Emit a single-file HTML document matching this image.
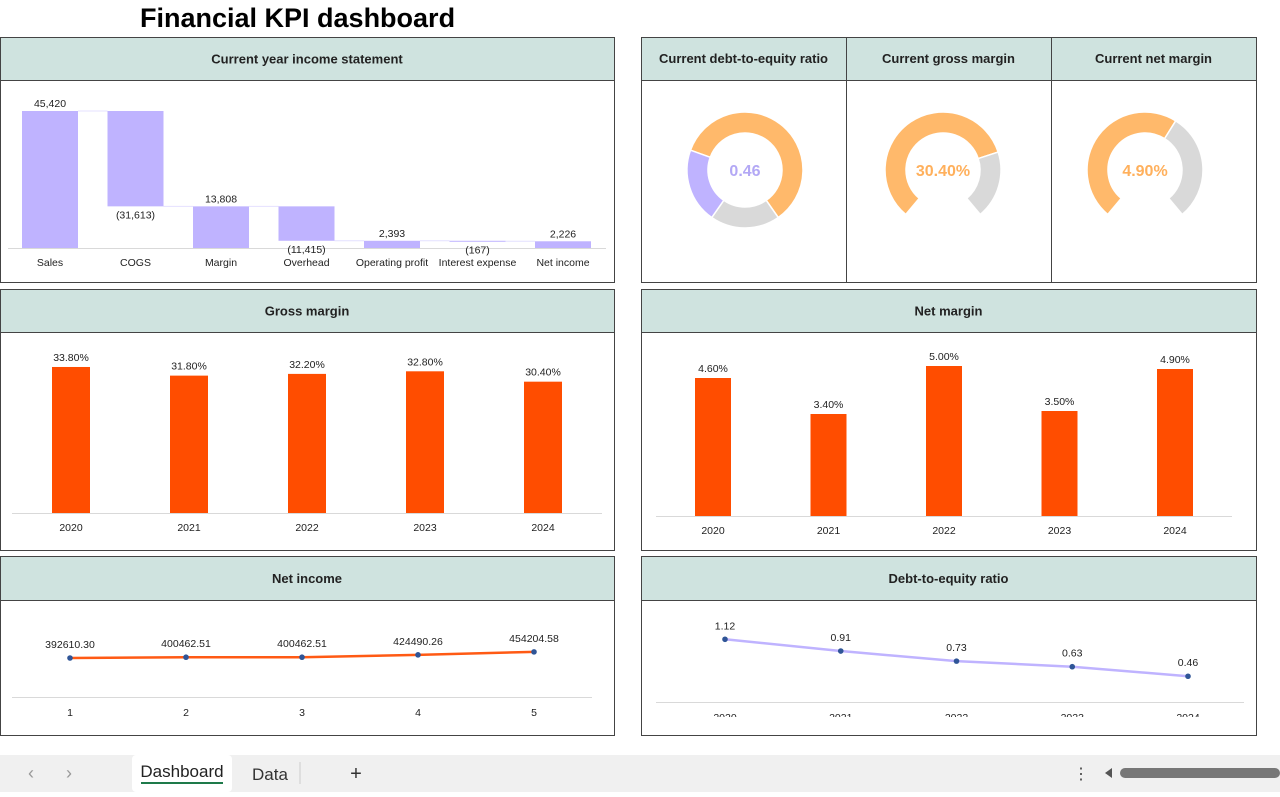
<!DOCTYPE html>
<html><head><meta charset="utf-8">
<style>
body{margin:0;width:1280px;height:792px;overflow:hidden;background:#fff;font-family:"Liberation Sans",sans-serif;}
svg text{font-family:"Liberation Sans",sans-serif;}
</style></head>
<body>
<svg id="s" width="1280" height="792" xmlns="http://www.w3.org/2000/svg">
<text x="140" y="27" font-size="27" font-weight="bold" fill="#000">Financial KPI dashboard</text>
<g id="panels"></g>
<g id="charts"></g>
<g>
<rect x="0" y="755" width="1280" height="37" fill="#f0f0f0"/>
<text x="28" y="779" font-size="18" fill="#999">‹</text>
<text x="66" y="779" font-size="18" fill="#999">›</text>
<rect x="132" y="755" width="100" height="37" rx="4" fill="#fff"/>
<text x="182" y="777" font-size="17" text-anchor="middle" fill="#222">Dashboard</text>
<rect x="141" y="782" width="82" height="2" fill="#1e7a4a"/>
<text x="252" y="780" font-size="17" fill="#333">Data</text>
<line x1="300" y1="762" x2="300" y2="784" stroke="#ccc"/>
<text x="356" y="780" font-size="20" text-anchor="middle" fill="#333">+</text>
<text x="1081" y="779" font-size="16" text-anchor="middle" fill="#444">⋮</text>
<path d="M1105 773 L1112 768 L1112 778 Z" fill="#555"/>
<rect x="1120" y="768" width="160" height="10" rx="5" fill="#777"/>
</g>
</svg>
<script>
const NS='http://www.w3.org/2000/svg';
function mk(tag,attrs,parent,txt){const e=document.createElementNS(NS,tag);for(const k in attrs)e.setAttribute(k,attrs[k]);if(txt!==undefined)e.textContent=txt;(parent||document.getElementById('charts')).appendChild(e);return e;}

const P=document.getElementById('panels');
function panel(x,y,w,h,hh,title,name){
  const g=mk('g',{},P);
  
  
  mk('rect',{x:x+0.5,y:y+0.5,width:w,height:h,fill:'#fff',stroke:'#444','stroke-width':1},g);
  mk('rect',{x:x+1,y:y+1,width:w-1,height:hh,fill:'#cfe3df'},g);
  mk('line',{x1:x,y1:y+hh+0.5,x2:x+w,y2:y+hh+0.5,stroke:'#444'},g);
  if(title){const t=mk('text',{x:x+w/2,y:y+hh/2+5,'font-size':13,'font-weight':'bold','text-anchor':'middle',fill:'#222'},g,title);
  
  }
}
panel(0,37,614,245,43,'Current year income statement','income-statement-panel');
panel(641,37,615,245,43,'','kpi-panel');
[['Current debt-to-equity ratio',641,205],['Current gross margin',846,205],['Current net margin',1051,205]].forEach(function(c){
  const t=mk('text',{x:c[1]+c[2]/2,y:63,'font-size':13,'font-weight':'bold','text-anchor':'middle',fill:'#222'},P,c[0]);
  
  
});
mk('line',{x1:846.5,y1:37,x2:846.5,y2:282,stroke:'#444'},P);
mk('line',{x1:1051.5,y1:37,x2:1051.5,y2:282,stroke:'#444'},P);
panel(0,289,614,261,43,'Gross margin','gross-margin-panel');
panel(641,289,615,261,43,'Net margin','net-margin-panel');
panel(0,556,614,179,44,'Net income','net-income-panel');
panel(641,556,615,179,44,'Debt-to-equity ratio','debt-to-equity-panel');

const wfCategories=['Sales','COGS','Margin','Overhead','Operating profit','Interest expense','Net income'];
const wfValues=[45420,-31613,13808,-11415,2393,-167,2226];
const wfIsTotal=[true,false,true,false,true,false,true];
const wfLabels=['45,420','(31,613)','13,808','(11,415)','2,393','(167)','2,226'];

const gmYears=['2020','2021','2022','2023','2024'];
const gmValues=[33.8,31.8,32.2,32.8,30.4];
const gmLabels=['33.80%','31.80%','32.20%','32.80%','30.40%'];

const nmYears=['2020','2021','2022','2023','2024'];
const nmValues=[4.6,3.4,5.0,3.5,4.9];
const nmLabels=['4.60%','3.40%','5.00%','3.50%','4.90%'];

const niCategories=['1','2','3','4','5'];
const niValues=[392610.30,400462.51,400462.51,424490.26,454204.58];
const niLabels=['392610.30','400462.51','400462.51','424490.26','454204.58'];

const deYears=['2020','2021','2022','2023','2024'];
const deValues=[1.12,0.91,0.73,0.63,0.46];
const deLabels=['1.12','0.91','0.73','0.63','0.46'];

const deDonutSegments=[215,70,75];
const deDonutColors=['#ffb96b','#d9d9d9','#bfb3ff'];
const deDonutValue='0.46';
const gmGaugeSegments=[212,68,80];
const gmGaugeValue='30.40%';
const nmGaugeSegments=[172,108,80];
const nmGaugeValue='4.90%';

(function(){
  const base=248, sc=137/45420, x0=50, step=85.5, bw=56;
  const y=v=>base-v*sc;
  mk('line',{x1:8,y1:base+0.5,x2:606,y2:base+0.5,stroke:'#d9d9d9'});
  let run=0;
  wfValues.forEach(function(v,i){
    const cx=x0+i*step;
    let top,bot,lblY;
    if(wfIsTotal[i]){run=v;top=y(v);bot=base;lblY=top-4;}
    else{const a=run,b=run+v;run=b;top=y(Math.max(a,b));bot=y(Math.min(a,b));lblY=v<0?bot+12:top-4;}
    const r=mk('rect',{x:cx-bw/2,y:top,width:bw,height:Math.max(bot-top,1),fill:'#bfb3ff'});
    
    
    if(i<wfValues.length-1){mk('line',{x1:cx+bw/2,y1:y(run),x2:cx+step-bw/2,y2:y(run),stroke:'#e4e0ff'});}
    const t=mk('text',{x:cx,y:lblY,'font-size':10.5,'text-anchor':'middle',fill:'#222'},undefined,wfLabels[i]);
    
    
    const c=mk('text',{x:cx,y:266,'font-size':10.5,'text-anchor':'middle',fill:'#222'},undefined,wfCategories[i]);
    
    
  });
})();

function bars(cats,vals,labels,base,sc,x0,step,bw,axX1,axX2,name){
  mk('line',{x1:axX1,y1:base+0.5,x2:axX2,y2:base+0.5,stroke:'#d9d9d9'});
  vals.forEach(function(v,i){
    const cx=x0+i*step, top=base-v*sc;
    const r=mk('rect',{x:cx-bw/2,y:top,width:bw,height:v*sc,fill:'#ff4d00'});
    
    
    const t=mk('text',{x:cx,y:top-6,'font-size':10.5,'text-anchor':'middle',fill:'#222'},undefined,labels[i]);
    
    
    const c=mk('text',{x:cx,y:base+18,'font-size':10.5,'text-anchor':'middle',fill:'#222'},undefined,cats[i]);
    
    
  });
}
bars(gmYears,gmValues,gmLabels,513,4.32,71,118,38,12,602,'gross-margin');
bars(nmYears,nmValues,nmLabels,516,30,713,115.5,36,656,1232,'net-margin');

function line(cats,vals,labels,base,sc,x0,step,axX1,axX2,color,name,clipY){
  mk('line',{x1:axX1,y1:base+0.5,x2:axX2,y2:base+0.5,stroke:'#d9d9d9'});
  const pts=vals.map((v,i)=>[x0+i*step,base-v*sc]);
  const pl=mk('polyline',{points:pts.map(p=>p.join(',')).join(' '),fill:'none',stroke:color,'stroke-width':2.5});
  
  
  pts.forEach(function(p,i){
    const c=mk('circle',{cx:p[0],cy:p[1],r:2.8,fill:'#2f5597'});
    
    
    const t=mk('text',{x:p[0],y:p[1]-10,'font-size':10.5,'text-anchor':'middle',fill:'#222'},undefined,labels[i]);
    
    
    const xl=mk('text',{x:p[0],y:base+19,'font-size':10.5,'text-anchor':'middle',fill:'#222'},undefined,cats[i]);
    if(clipY)xl.setAttribute('clip-path','url(#declip)');
    
    
  });
}
const defs=mk('defs',{},document.getElementById('s'));
const cp=mk('clipPath',{id:'declip'},defs);
mk('rect',{x:641,y:600,width:615,height:117},cp);
line(niCategories,niValues,niLabels,697,39/392610,70,116,12,592,'#ff5a14','net-income');
line(deYears,deValues,deLabels,702,56,725,115.75,656,1244,'#bfb3ff','debt-to-equity',true);

function arc(cx,cy,R,r,a0,a1){
  const rad=a=>(a-90)*Math.PI/180;
  const p=(rr,a)=>[cx+rr*Math.cos(rad(a)),cy+rr*Math.sin(rad(a))];
  const L=(a1-a0)>180?1:0;
  const A=p(R,a0),B=p(R,a1),C=p(r,a1),D=p(r,a0);
  return `M${A} A${R},${R} 0 ${L} 1 ${B} L${C} A${r},${r} 0 ${L} 0 ${D}Z`;
}
function donut(cx,cy,segs,colors,start,val,valColor,name){
  let a=start;
  segs.forEach(function(s,i){
    if(colors[i]){
      const p=mk('path',{d:arc(cx,cy,58,37,a,a+s),fill:colors[i],stroke:'#fff','stroke-width':1.5});
      
      
    }
    a+=s;
  });
  const t=mk('text',{x:cx,y:cy+6,'font-size':16,'font-weight':'bold','text-anchor':'middle',fill:valColor},undefined,val);
  
  
}
donut(745,170,deDonutSegments,deDonutColors,-70,deDonutValue,'#b3a8f5','debt-to-equity-donut');
donut(943,170,gmGaugeSegments,['#ffb96b','#d9d9d9',null],-140,gmGaugeValue,'#ffb05c','gross-margin-gauge');
donut(1145,170,nmGaugeSegments,['#ffb96b','#d9d9d9',null],-140,nmGaugeValue,'#ffb05c','net-margin-gauge');
</script>
</body></html>
